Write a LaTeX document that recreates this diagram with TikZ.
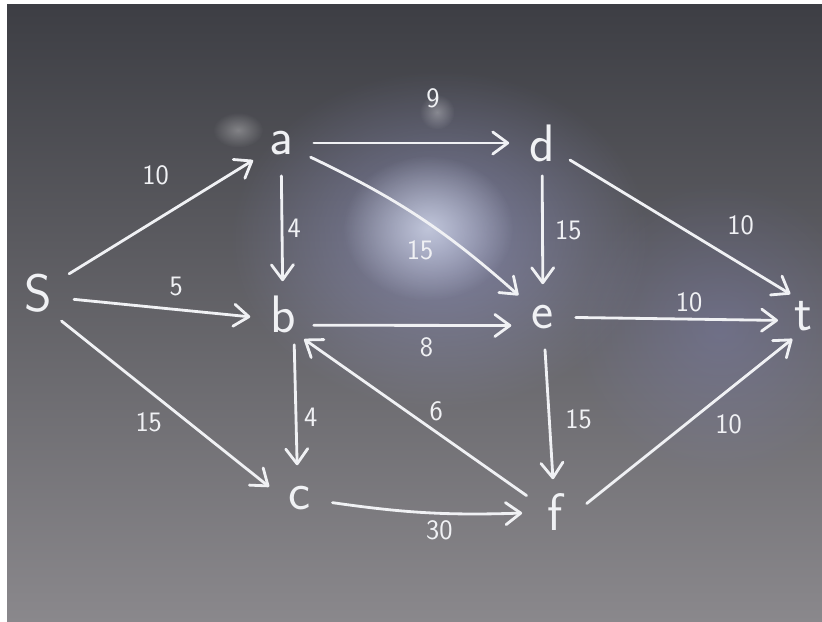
\documentclass[tikz,border=0pt]{standalone}
\usepackage{tikz}
\usetikzlibrary{positioning, arrows.meta, fadings}

\definecolor{chalk}{HTML}{F0F1F4}
\definecolor{boardtop}{HTML}{3D3E44}
\definecolor{boardbot}{HTML}{8A888C}
\definecolor{glow}{HTML}{D2D8EA}
\tikzfading[name=glowfade, inner color=transparent!0, outer color=transparent!100]

\begin{document}
\begin{tikzpicture}[
    x=0.02cm, y=-0.02cm,
    vertex/.style={circle, minimum size=1.3cm, inner sep=0pt, text=chalk, font=\sffamily\fontsize{30}{34}\selectfont},
    edge/.style={draw=chalk, line width=1.6pt, line cap=round, -{Straight Barb[length=3mm, width=4.4mm, round]}},
    weight/.style={text=chalk, inner sep=1pt, font=\sffamily\fontsize{16}{18}\selectfont}
]

% board
\useasboundingbox (0,0) rectangle (822,622);
\fill[white] (0,0) rectangle (822,622);
\shade[top color=boardtop, bottom color=boardbot] (7,4) rectangle (822,622);
\fill[glow!80!blue, path fading=glowfade, fill opacity=0.45] (440,240) ellipse (4.2cm and 3.4cm);
\fill[glow, path fading=glowfade, fill opacity=0.8] (428,228) ellipse (1.7cm and 1.45cm);
\fill[glow!70!blue, path fading=glowfade, fill opacity=0.22] (720,330) ellipse (3cm and 3cm);
% smudges
\fill[white, path fading=glowfade, fill opacity=0.3] (238,130) ellipse (0.5cm and 0.35cm);
\fill[white, path fading=glowfade, fill opacity=0.3] (437,112) ellipse (0.35cm and 0.35cm);

% vertices
\node[vertex, minimum size=1.45cm] (s) at (38,293) {S};
\node[vertex] (a) at (281,143) {a};
\node[vertex] (d) at (542,143) {d};
\node[vertex] (b) at (283,314) {b};
\node[vertex] (e) at (543,317) {e};
\node[vertex, minimum size=1cm] (t) at (803,316) {t};
\node[vertex] (c) at (300,498) {c};
\node[vertex] (f) at (555,512) {f};

% edges with capacities
\draw[edge] (s) -- (a) node[pos=0.47, above=0.65cm, weight] {10};
\draw[edge] (s.-10) -- (b.185) node[pos=0.58, above=0.2cm, weight] {5};
\draw[edge] (s.-50) -- (c.160) node[pos=0.42, below=0.38cm, weight] {15};
\draw[edge] (a) -- (d) node[pos=0.61, above=0.63cm, weight] {9};
\draw[edge] (a) -- (b) node[midway, right=0.05cm, weight] {4};
\draw[edge] (a) to[bend left=8] node[midway, below=0.4cm, weight] {15} (e);
\draw[edge] (d) -- (e) node[midway, right=0.19cm, weight] {15};
\draw[edge] (d) -- (t.120) node[pos=0.7, above right=0.31cm and 0cm, weight] {10};
\draw[edge] (b.-20) -- (e.195) node[pos=0.57, below=0.19cm, weight] {8};
\draw[edge] (e) -- (t.190) node[pos=0.56, above=0.08cm, weight] {10};
\draw[edge] (b.-70) -- (c.95) node[pos=0.6, right=0.1cm, weight] {4};
\draw[edge] (f.150) -- (b.-50) node[pos=0.45, above right=0.03cm and 0cm, weight] {6};
\draw[edge] (e) -- (f) node[pos=0.54, right=0.26cm, weight] {15};
\draw[edge] (c) to[bend right=5] node[pos=0.57, below=0.09cm, weight] {30} (f);
\draw[edge] (f.15) -- (t.245) node[pos=0.69, below=0.42cm, weight] {10};

\end{tikzpicture}
\end{document}
